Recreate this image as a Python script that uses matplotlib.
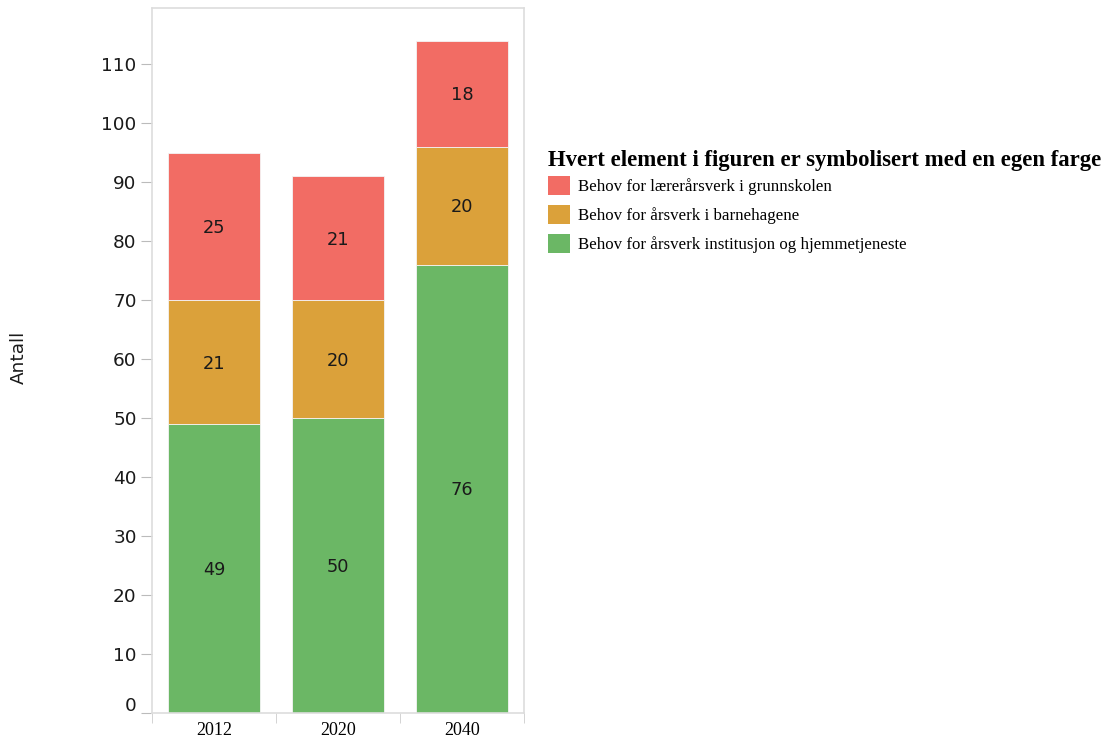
import matplotlib.pyplot as plt
import matplotlib.transforms as mtransforms
from matplotlib.patches import Patch
import numpy as np

years = ['2012', '2020', '2040']
institusjon = [49, 50, 76]
barnehage = [21, 20, 20]
grunnskole = [25, 21, 18]

series_labels = ['Behov for lærerårsverk i grunnskolen',
                 'Behov for årsverk i barnehagene',
                 'Behov for årsverk institusjon og hjemmetjeneste']
colors = {'grunnskole': '#f26c64', 'barnehage': '#dba13a', 'institusjon': '#6bb765'}

plt.rcParams['font.family'] = 'DejaVu Sans'

fig = plt.figure(figsize=(11.11, 7.4), dpi=100)
ax = fig.add_axes([0.1368, 0.037, 0.3348, 0.952])

x = np.arange(len(years))
width = 0.745
bottom = np.zeros(len(years))
for vals, key in [(institusjon, 'institusjon'), (barnehage, 'barnehage'), (grunnskole, 'grunnskole')]:
    vals = np.array(vals)
    ax.bar(x, vals, width, bottom=bottom, color=colors[key], edgecolor='#f4f4f4', linewidth=0.6)
    for xi, b, v in zip(x, bottom, vals):
        ax.text(xi, b + v / 2 - 0.3, str(v), ha='center', va='center', fontsize=12.8, color='#1a1a1a')
    bottom = bottom + vals

ax.set_xlim(-0.5, 2.5)
ax.set_ylim(0, 119.5)
ax.set_yticks(np.arange(0, 111, 10))
ax.tick_params(axis='y', labelsize=13.3, length=8, color='#bbbbbb', labelcolor='#1a1a1a', pad=3)
# the zero label sits a little above the baseline
zero_lbl = ax.get_yticklabels()[0]
zero_lbl.set_transform(zero_lbl.get_transform() +
                       mtransforms.ScaledTranslation(0, 9 / 100, fig.dpi_scale_trans))

ax.set_xticks(x)
ax.set_xticklabels(years, family='Liberation Serif', fontsize=13)
ax.tick_params(axis='x', which='major', length=0, pad=7)
ax.set_xticks([-0.5, 0.5, 1.5, 2.5], minor=True)
ax.tick_params(axis='x', which='minor', length=7, color='#cccccc')

for sp in ax.spines.values():
    sp.set_color('#dddddd')
    sp.set_linewidth(1.2)

fig.text(0.0168, 0.517, 'Antall', rotation=90, ha='center', va='center', fontsize=13.3, color='#1a1a1a')

# legend title placed on its own, entries below it
fig.text(0.4933, 0.7825, 'Hvert element i figuren er symbolisert med en egen farge',
         ha='left', va='center', family='Liberation Serif', fontsize=16.4, weight='bold')
handles = [Patch(facecolor=colors['grunnskole']),
           Patch(facecolor=colors['barnehage']),
           Patch(facecolor=colors['institusjon'])]
leg = fig.legend(handles, series_labels, loc='upper left', bbox_to_anchor=(0.487, 0.771),
                 frameon=False, prop={'family': 'Liberation Serif', 'size': 12.2},
                 handlelength=1.3, handleheight=1.3, handletextpad=0.5, labelspacing=0.6,
                 borderaxespad=0)

fig.savefig('out.png', dpi=100)
